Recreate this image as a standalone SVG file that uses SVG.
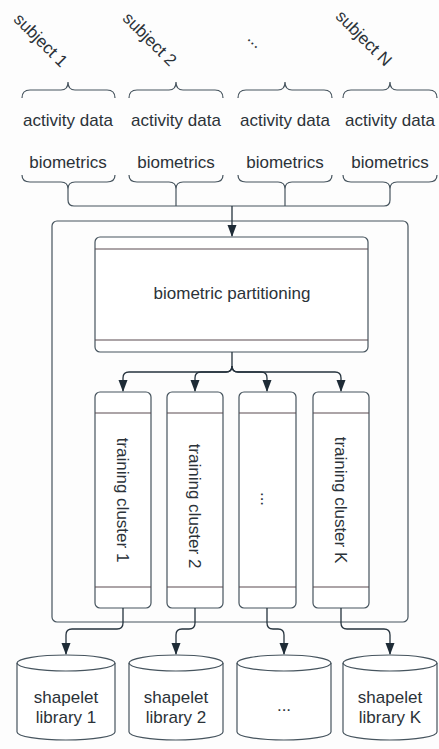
<svg xmlns="http://www.w3.org/2000/svg" width="439" height="749" viewBox="0 0 439 749">
<style>
text{font-family:"Liberation Sans",Arial,sans-serif;font-size:17px;fill:#2b3238;text-anchor:middle}
.ln{fill:none;stroke:#46545e;stroke-width:1.2}
.box{fill:#ffffff;stroke:#46545e;stroke-width:1.2}
.sep{stroke:#5a4a50;stroke-width:1.2}
.ar{fill:none;stroke:#26333e;stroke-width:1.3}
</style>
<defs>
<marker id="ah" markerWidth="12" markerHeight="10" refX="11" refY="4.5" orient="auto" markerUnits="userSpaceOnUse" viewBox="0 0 12 9">
<path d="M0,0 L12,4.5 L0,9 Z" fill="#1e2b36"/>
</marker>
</defs>
<rect width="439" height="749" fill="#fdfdfd"/>
<g id="subjects">
<text transform="rotate(45 41 40)" x="41" y="46">subject 1</text>
<text transform="rotate(45 150 39)" x="150" y="45">subject 2</text>
<text transform="rotate(45 256 40)" x="256" y="46">...</text>
<text transform="rotate(45 364 38)" x="364" y="44">subject N</text>
</g>
<g id="top-braces" class="ln">
<path d="M22,98 Q22,90 30,90 H61 Q68,90 68,82 Q68,90 75,90 H107 Q115,90 115,98"/>
<path d="M129,98 Q129,90 137,90 H169 Q176,90 176,82 Q176,90 183,90 H215 Q223,90 223,98"/>
<path d="M238,98 Q238,90 246,90 H278 Q285,90 285,82 Q285,90 292,90 H324 Q332,90 332,98"/>
<path d="M343,98 Q343,90 351,90 H383 Q390,90 390,82 Q390,90 397,90 H429 Q437,90 437,98"/>
</g>
<g id="labels">
<text x="68" y="126">activity data</text>
<text x="176" y="126">activity data</text>
<text x="285" y="126">activity data</text>
<text x="390" y="126">activity data</text>
<text x="68" y="168">biometrics</text>
<text x="176" y="168">biometrics</text>
<text x="285" y="168">biometrics</text>
<text x="390" y="168">biometrics</text>
</g>
<g id="bottom-braces" class="ln">
<path d="M22,175 Q22,182 30,182 H61 Q68,182 68,189 Q68,182 75,182 H107 Q115,182 115,175"/>
<path d="M129,175 Q129,182 137,182 H169 Q176,182 176,189 Q176,182 183,182 H215 Q223,182 223,175"/>
<path d="M238,175 Q238,182 246,182 H278 Q285,182 285,189 Q285,182 292,182 H324 Q332,182 332,175"/>
<path d="M343,175 Q343,182 351,182 H383 Q390,182 390,189 Q390,182 397,182 H429 Q437,182 437,175"/>
</g>
<g id="container">
<rect class="ln" x="52" y="221" width="356" height="401" rx="5"/>
</g>
<g id="partitioning">
<rect class="box" x="95" y="237" width="273" height="115" rx="5"/>
<line class="sep" x1="95" y1="249" x2="368" y2="249"/>
<line class="sep" x1="95" y1="340" x2="368" y2="340"/>
<text x="232" y="299">biometric partitioning</text>
</g>
<g id="cluster1">
<rect class="box" x="95" y="392" width="56" height="216" rx="5"/>
<line class="sep" x1="95" y1="413" x2="151" y2="413"/>
<line class="sep" x1="95" y1="587" x2="151" y2="587"/>
<text transform="rotate(90 123 500)" x="123" y="506">training cluster 1</text>
</g>
<g id="cluster2">
<rect class="box" x="167" y="392" width="56" height="216" rx="5"/>
<line class="sep" x1="167" y1="413" x2="223" y2="413"/>
<line class="sep" x1="167" y1="587" x2="223" y2="587"/>
<text transform="rotate(90 195 506)" x="195" y="512">training cluster 2</text>
</g>
<g id="cluster3">
<rect class="box" x="239" y="392" width="57" height="216" rx="5"/>
<line class="sep" x1="239" y1="413" x2="296" y2="413"/>
<line class="sep" x1="239" y1="587" x2="296" y2="587"/>
<text transform="rotate(90 267 499)" x="267" y="505">...</text>
</g>
<g id="clusterK">
<rect class="box" x="313" y="392" width="56" height="216" rx="5"/>
<line class="sep" x1="313" y1="413" x2="369" y2="413"/>
<line class="sep" x1="313" y1="587" x2="369" y2="587"/>
<text transform="rotate(90 341 500)" x="341" y="506">training cluster K</text>
</g>
<g id="library1">
<path class="box" d="M17,663 A49,8 0 0 1 115,663 V732 A49,8 0 0 1 17,732 Z"/>
<path class="ln" d="M17,663 A49,8 0 0 0 115,663"/>
<text x="66" y="703">shapelet</text>
<text x="66" y="723">library 1</text>
</g>
<g id="library2">
<path class="box" d="M129,663 A47,8 0 0 1 223,663 V732 A47,8 0 0 1 129,732 Z"/>
<path class="ln" d="M129,663 A47,8 0 0 0 223,663"/>
<text x="176" y="703">shapelet</text>
<text x="176" y="723">library 2</text>
</g>
<g id="library3">
<path class="box" d="M237,663 A47,8 0 0 1 331,663 V732 A47,8 0 0 1 237,732 Z"/>
<path class="ln" d="M237,663 A47,8 0 0 0 331,663"/>
<text x="284" y="711">...</text>
</g>
<g id="libraryK">
<path class="box" d="M343,663 A47,8 0 0 1 437,663 V732 A47,8 0 0 1 343,732 Z"/>
<path class="ln" d="M343,663 A47,8 0 0 0 437,663"/>
<text x="390" y="703">shapelet</text>
<text x="390" y="723">library K</text>
</g>
<g id="connectors">
<path class="ln" d="M68,189 V200 Q68,206 74,206 H384 Q390,206 390,200 V189"/>
<path class="ln" d="M176,189 V206 M285,189 V206"/>
<path class="ar" d="M232,206 V236" marker-end="url(#ah)"/>
<path class="ar" d="M232,352 V366 Q232,372 226,372 H129 Q123,372 123,378 V391" marker-end="url(#ah)"/>
<path class="ar" d="M232,366 Q232,372 226,372 H201 Q195,372 195,378 V391" marker-end="url(#ah)"/>
<path class="ar" d="M232,366 Q232,372 238,372 H261 Q267,372 267,378 V391" marker-end="url(#ah)"/>
<path class="ar" d="M232,366 Q232,372 238,372 H335 Q341,372 341,378 V391" marker-end="url(#ah)"/>
<path class="ar" d="M123,608 V623 Q123,629 117,629 H72 Q66,629 66,635 V654" marker-end="url(#ah)"/>
<path class="ar" d="M195,608 V623 Q195,629 189,629 H182 Q176,629 176,635 V654" marker-end="url(#ah)"/>
<path class="ar" d="M267,608 V623 Q267,629 273,629 H278 Q284,629 284,635 V654" marker-end="url(#ah)"/>
<path class="ar" d="M341,608 V623 Q341,629 347,629 H384 Q390,629 390,635 V654" marker-end="url(#ah)"/>
</g>
</svg>
